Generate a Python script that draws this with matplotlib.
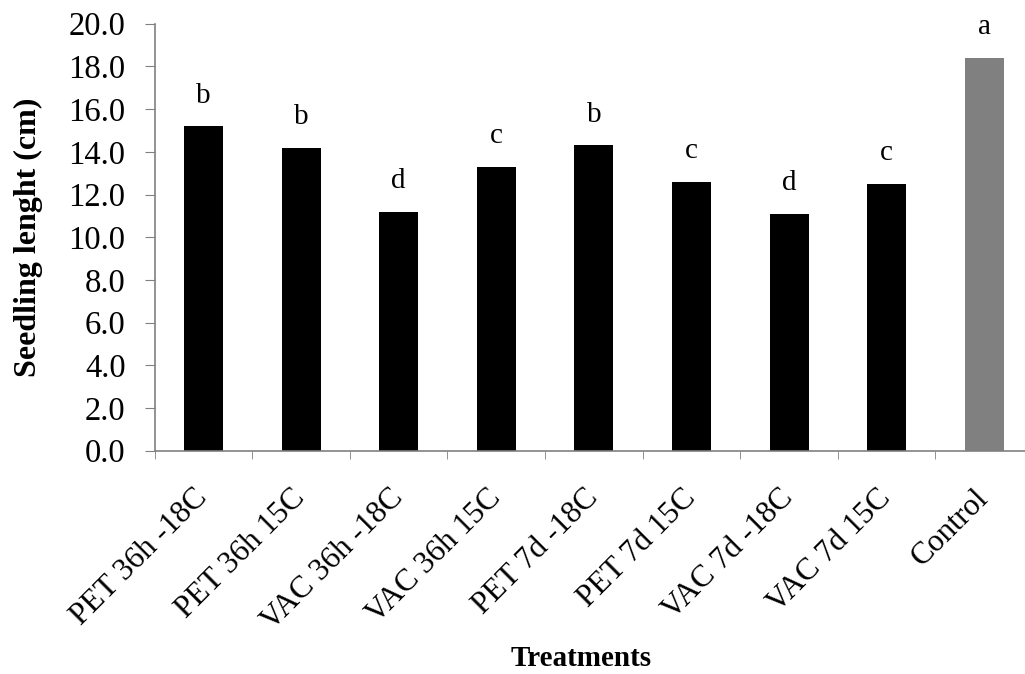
import numpy as np
import matplotlib
matplotlib.use("Agg")
import matplotlib.pyplot as plt
from matplotlib.ticker import FixedLocator, NullFormatter

# data
treatments = ["PET 36h -18C", "PET 36h 15C", "VAC 36h -18C", "VAC 36h 15C",
              "PET 7d -18C", "PET 7d 15C", "VAC 7d -18C", "VAC 7d 15C", "Control"]
seedling_length = [15.2, 14.2, 11.2, 13.3, 14.3, 12.6, 11.1, 12.5, 18.4]
letters = ["b", "b", "d", "c", "b", "c", "d", "c", "a"]
bar_colors = ["black"] * 8 + ["#808080"]

plt.rcParams['font.family'] = ['Liberation Serif', 'DejaVu Serif']

fig = plt.figure(figsize=(10.25, 6.74), dpi=100)
ax = fig.add_axes([0.1509, 0.3313, 0.857, 0.6335])

x = np.arange(len(treatments))
ax.bar(x, seedling_length, width=0.4, color=bar_colors)

# significance letters above the bars
for xi, v, s in zip(x, seedling_length, letters):
    ax.annotate(s, (xi, v), xytext=(0, 22), textcoords="offset points",
                ha="center", va="center", fontsize=21)

ax.set_xlim(-0.5, len(treatments) - 0.5)
ax.set_ylim(0, 20)
ax.set_yticks(np.arange(0, 20.1, 2))
ax.set_yticklabels(["%.1f" % t for t in np.arange(0, 20.1, 2)], fontsize=23.5)

ax.set_xticks(x)
ax.set_xticklabels(treatments, rotation=45, ha="right", va="center",
                   rotation_mode="anchor", fontsize=22.5)
ax.tick_params(axis="x", which="major", length=0, pad=31)
ax.xaxis.set_minor_locator(FixedLocator(np.arange(-0.5, len(treatments), 1)))
ax.xaxis.set_minor_formatter(NullFormatter())
ax.tick_params(axis="x", which="minor", length=6, color="#808080")
ax.tick_params(axis="y", length=7, color="#808080", pad=14)

for side in ["top", "right"]:
    ax.spines[side].set_visible(False)
for side in ["left", "bottom"]:
    ax.spines[side].set_color("#808080")
    ax.spines[side].set_linewidth(1.2)

ax.set_ylabel("Seedling lenght (cm)", fontsize=23, fontweight="bold")
ax.yaxis.set_label_coords(-0.127, 0.5)
ax.set_xlabel("Treatments", fontsize=21, fontweight="bold", va="center")
ax.xaxis.set_label_coords(0.485, -0.487)

fig.savefig("out.png", dpi=100)
